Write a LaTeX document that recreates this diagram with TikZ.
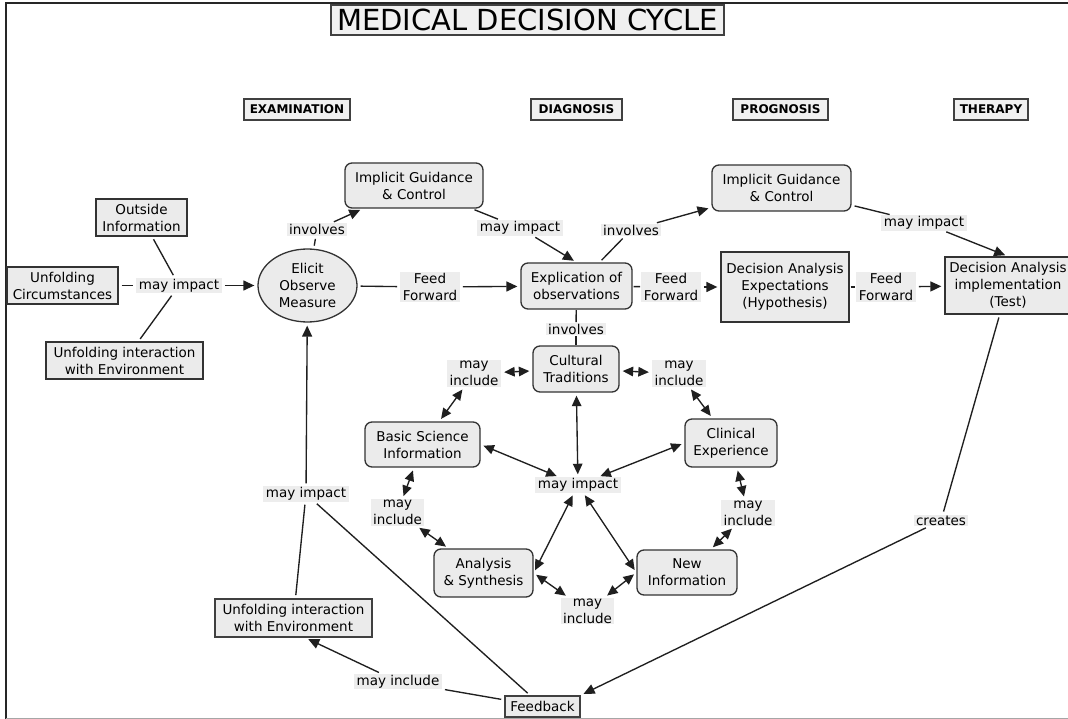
\documentclass[tikz,border=0pt]{standalone}
\usepackage{fontspec}
\setmainfont{DejaVu Sans}
\usetikzlibrary{arrows.meta,shapes.geometric}
\newcommand\cmtext{\fontsize{13.5}{17}\selectfont}
\newcommand\cmhead{\fontsize{12}{14}\selectfont\bfseries}
\newcommand\cmtitle{\fontsize{29}{32}\selectfont}
\begin{document}
\begin{tikzpicture}[x=1pt,y=-1pt,
  every node/.style={font=\cmtext},
  concept/.style={draw=black!80, fill=black!8, line width=1.3pt, align=center, inner sep=0pt},
  rconcept/.style={concept, rounded corners=7pt},
  framed/.style={concept, line width=1.7pt, draw=black!75},
  header/.style={draw=black!75, fill=black!6, line width=1.7pt, inner sep=0pt, font=\cmhead},
  linklab/.style={fill=black!7, inner xsep=2.5pt, inner ysep=1pt, align=center},
  link/.style={draw=black!88, line width=1.35pt, shorten <=3pt, shorten >=3pt},
  tight/.style={shorten <=1pt, shorten >=1pt},
  arr/.style={link, -{Triangle[length=11pt,width=10pt]}},
  biarr/.style={link, {Triangle[length=10.5pt,width=9.5pt]}-{Triangle[length=10.5pt,width=9.5pt]}}
]
\useasboundingbox (0,0) rectangle (1068,719);
\fill[white] (0,0) rectangle (1068,719);

% page frame
\draw[line width=1.5pt, black!85] (6,719) -- (6,3) -- (1068,3);
\draw[line width=1pt, black!35] (6,718) -- (1068,718);

% title and stage headings
\node[header, font=\cmtitle, minimum width=393pt, minimum height=30pt] (title) at (527.5,20) {MEDICAL DECISION CYCLE};
\node[header, minimum width=106pt, minimum height=21pt] (exam) at (297,109.5) {EXAMINATION};
\node[header, minimum width=91pt, minimum height=21pt] (diag) at (576.5,109.5) {DIAGNOSIS};
\node[header, minimum width=95pt, minimum height=21pt] (prog) at (780.5,109.5) {PROGNOSIS};
\node[header, minimum width=74pt, minimum height=21pt] (ther) at (991,109.5) {THERAPY};

% concepts
\node[concept, minimum width=91pt, minimum height=37pt] (outside) at (141.5,217.5) {Outside\\Information};
\node[concept, minimum width=111pt, minimum height=37pt] (circ) at (62.5,285.5) {Unfolding\\Circumstances};
\node[concept, minimum width=157pt, minimum height=37pt] (envtop) at (124.5,360.5) {Unfolding interaction\\with Environment};
\node[concept, ellipse, minimum width=99pt, minimum height=73pt] (elicit) at (307.5,285.5) {Elicit\\Observe\\Measure};
\node[rconcept, minimum width=138pt, minimum height=45pt] (igc1) at (414,185.5) {Implicit Guidance\\\& Control};
\node[rconcept, minimum width=111pt, minimum height=46pt] (expl) at (576.5,286) {Explication of\\observations};
\node[rconcept, minimum width=139pt, minimum height=46pt] (igc2) at (781.5,188) {Implicit Guidance\\\& Control};
\node[concept, minimum width=128pt, minimum height=70pt] (dae) at (785,287) {Decision Analysis\\Expectations\\(Hypothesis)};
\node[concept, minimum width=126pt, minimum height=57pt] (dai) at (1008,285.5) {Decision Analysis\\implementation\\(Test)};
\node[rconcept, minimum width=86pt, minimum height=46pt] (ct) at (576,369) {Cultural\\Traditions};
\node[rconcept, minimum width=92pt, minimum height=48pt] (ce) at (731,443) {Clinical\\Experience};
\node[rconcept, minimum width=115pt, minimum height=45pt] (bsi) at (422.5,444.5) {Basic Science\\Information};
\node[rconcept, minimum width=99pt, minimum height=48pt] (as) at (483.5,573) {Analysis\\\& Synthesis};
\node[rconcept, minimum width=100pt, minimum height=45pt] (ni) at (687,572.5) {New\\Information};
\node[framed, minimum width=157pt, minimum height=38pt] (envbot) at (293.5,618) {Unfolding interaction\\with Environment};
\node[framed, minimum width=75pt, minimum height=21pt] (feedback) at (542.5,706.5) {Feedback};

% linking phrases
\node[linklab] (mi0) at (179,285.5) {may impact};
\node[linklab] (inv1) at (317,229.5) {involves};
\node[linklab] (mi1) at (520,228) {may impact};
\node[linklab] (ff1) at (430,287) {Feed\\Forward};
\node[linklab] (inv2) at (631,230) {involves};
\node[linklab] (ff2) at (671,287) {Feed\\Forward};
\node[linklab] (mi2) at (924,223) {may impact};
\node[linklab] (ff3) at (886,287) {Feed\\Forward};
\node[linklab] (inv3) at (576,329) {involves};
\node[linklab] (mtl) at (474,373.5) {may\\include};
\node[linklab] (mtr) at (679,373.5) {may\\include};
\node[linklab] (mic) at (578,485) {may impact};
\node[linklab] (ml) at (397.5,512.5) {may\\include};
\node[linklab] (mr) at (748,513) {may\\include};
\node[linklab] (mb) at (587.5,611) {may\\include};
\node[linklab] (mi3) at (306,494) {may impact};
\node[linklab] (mfb) at (398,681.5) {may include};
\node[linklab] (creates) at (941,520.5) {creates};

% examination
\draw[link] (circ) -- (mi0);
\draw[link] (outside) -- (mi0);
\draw[link] (envtop) -- (mi0);
\draw[arr] (mi0) -- (elicit);
\draw[link] (elicit) -- (inv1);
\draw[arr] (inv1) -- (igc1);
\draw[link] (igc1) -- (mi1);
\draw[arr] (mi1) -- (expl.north);
\draw[link] (elicit) -- (ff1);
\draw[arr] (ff1) -- (expl);

% diagnosis, prognosis, therapy
\draw[link] (expl) -- (inv2);
\draw[arr] (inv2) -- (igc2);
\draw[link] (igc2) -- (mi2);
\draw[arr] (mi2) -- (dai.north);
\draw[link, tight] (expl) -- (ff2);
\draw[arr] (ff2) -- (dae);
\draw[link, tight] (dae) -- (ff3);
\draw[arr] (ff3) -- (dai);

% knowledge cycle
\draw[link, shorten <=0.5pt, shorten >=0.5pt] (expl) -- (inv3);
\draw[link, shorten <=0.5pt, shorten >=0.5pt] (inv3) -- (ct);
\draw[biarr] (mtl) -- (ct);
\draw[biarr] (ct) -- (mtr);
\draw[biarr] (mtl) -- (bsi);
\draw[biarr] (mtr) -- (ce);
\draw[biarr] (bsi.east) -- (mic);
\draw[biarr] (ce.west) -- (mic);
\draw[biarr] (ct) -- (mic);
\draw[biarr] (bsi) -- (ml);
\draw[biarr] (ml) -- (as);
\draw[biarr] (mic) -- (as.east);
\draw[biarr] (mic) -- (ni.west);
\draw[biarr] (ce) -- (mr);
\draw[biarr] (mr) -- (ni);
\draw[biarr] (as.east) -- (mb);
\draw[biarr] (mb) -- (ni.west);

% feedback loop
\draw[link] (envbot) -- (mi3);
\draw[arr] (mi3) -- (elicit);
\draw[link] (mi3) -- (feedback);
\draw[link] (feedback) -- (mfb);
\draw[arr] (mfb) -- ([xshift=12pt]envbot.south);
\draw[link] (dai) -- (creates);
\draw[arr] (creates) -- (feedback.north east);
\end{tikzpicture}
\end{document}
